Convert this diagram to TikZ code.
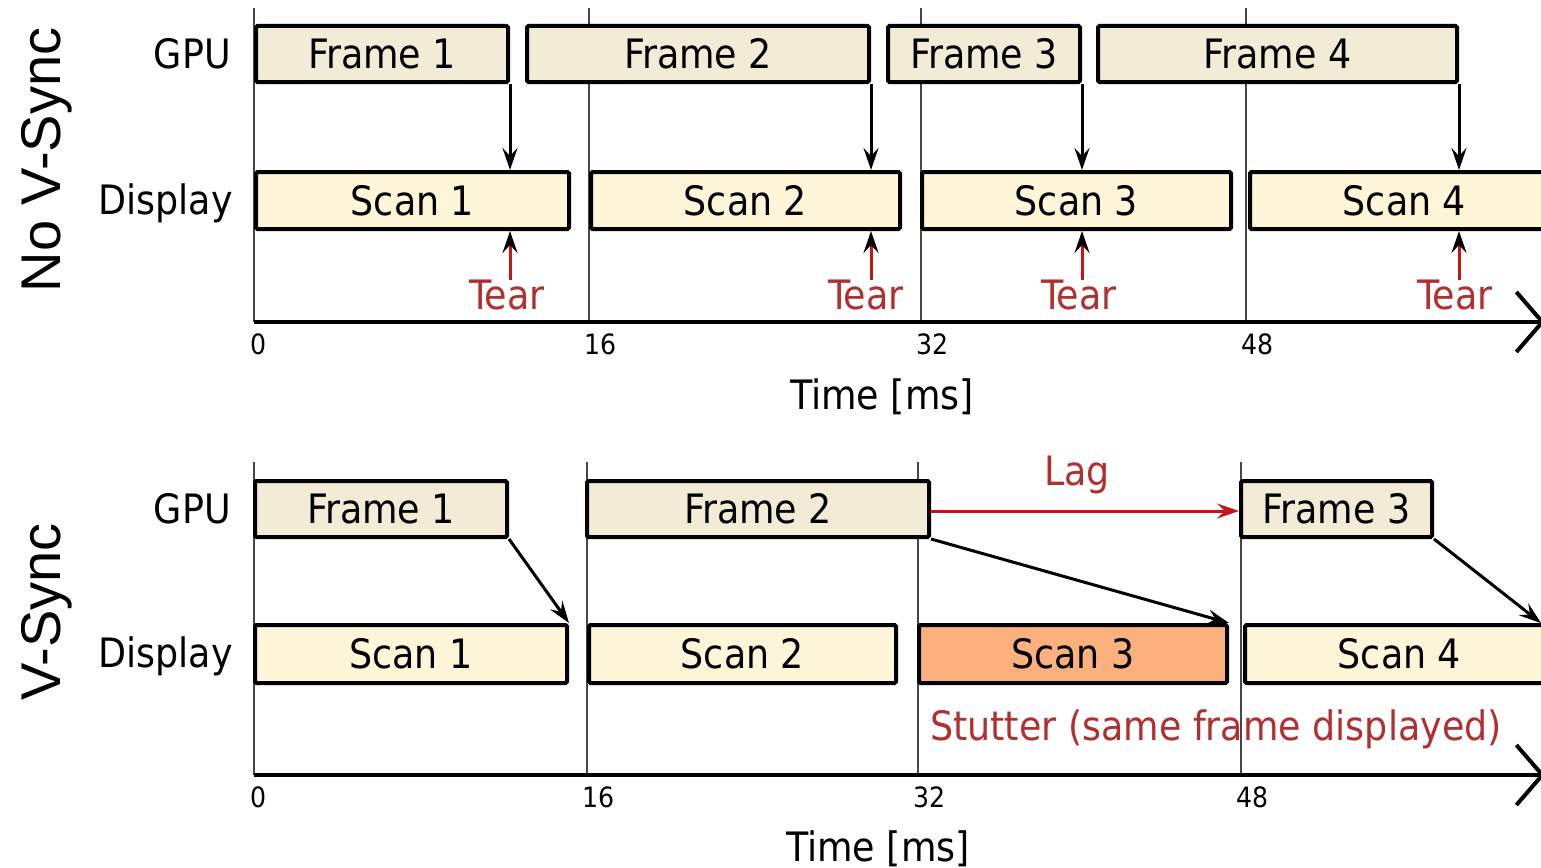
\documentclass[tikz,border=0pt]{standalone}
\usepackage{fontspec}
\usetikzlibrary{arrows.meta}
\newfontfamily\condfont{DejaVu Sans Condensed}
\newfontfamily\sidefont{Liberation Sans}
\newcommand\mainfs{\condfont\fontsize{40.5}{48}\selectfont}
\newcommand\tickfs{\condfont\fontsize{28}{33}\selectfont}
\newcommand\sidefs{\sidefont\fontsize{56}{66}\selectfont}
\definecolor{framefill}{RGB}{242,235,214}
\definecolor{scanfill}{RGB}{255,245,216}
\definecolor{stutfill}{RGB}{252,176,125}
\definecolor{redtext}{RGB}{176,48,48}
\definecolor{redline}{RGB}{200,20,20}
\definecolor{gridgray}{RGB}{70,70,70}
\begin{document}
\begin{tikzpicture}[x=1pt,y=-1pt,
  grid/.style={line width=1.5pt, draw=gridgray},
  fbox/.style={draw, line width=4pt, rounded corners=1.5pt, fill=framefill, inner sep=0pt, font=\mainfs, text height=29pt, text depth=0pt},
  sbox/.style={fbox, fill=scanfill},
  lbl/.style={font=\mainfs, text height=29pt, text depth=0pt, inner sep=0pt},
  redlbl/.style={lbl, text=redtext},
  tick/.style={font=\tickfs, text height=20pt, text depth=0pt, inner sep=0pt, anchor=north west},
  side/.style={font=\sidefs, rotate=90, anchor=base, inner sep=0pt},
  conn/.style={line width=3pt, -{Stealth[length=22pt,width=15pt,inset=8pt]}},
  tearc/.style={line width=3pt, draw=redline, -{Stealth[length=22pt,width=15pt,inset=8pt,color=black]}},
  lagc/.style={line width=3pt, draw=redline, -{Stealth[length=22pt,width=15pt,inset=8pt]}},
  axisl/.style={line width=4pt, -{Straight Barb[length=26pt,width=60pt]}},
]
\useasboundingbox (0,0) rectangle (1541,867);
\clip (0,0) rectangle (1541,867);

% ---------------- top panel: No V-Sync ----------------
\foreach \gx in {254,589,921,1246} {\draw[grid] (\gx,8) -- (\gx,322);}
\coordinate (ta0) at (254,322);
\coordinate (ta1) at (1545,322);
\draw[axisl] (ta0) -- (ta1);

\node[side] (nvs) at (60,160) {No V-Sync};
\node[lbl, anchor=east] (tgpu) at (231,54) {GPU};
\node[lbl, anchor=east] (tdisp) at (233,200) {Display};

\node[fbox, minimum width=252pt, minimum height=56pt] (tf1) at (382,54) {Frame 1};
\node[fbox, minimum width=342pt, minimum height=56pt] (tf2) at (698,54) {Frame 2};
\node[fbox, minimum width=192pt, minimum height=56pt] (tf3) at (984,54) {Frame 3};
\node[fbox, minimum width=359pt, minimum height=56pt] (tf4) at (1277.5,54) {Frame 4};

\node[sbox, minimum width=313pt, minimum height=57pt] (ts1) at (412.5,200.5) {Scan 1};
\node[sbox, minimum width=309pt, minimum height=57pt] (ts2) at (745.5,200.5) {Scan 2};
\node[sbox, minimum width=309pt, minimum height=57pt] (ts3) at (1076.5,200.5) {Scan 3};
\node[sbox, minimum width=309pt, minimum height=57pt] (ts4) at (1404.5,200.5) {Scan 4};

\draw[conn] (tf1.south east) -- (tf1.south east |- ts1.north);
\draw[conn] (tf2.south east) -- (tf2.south east |- ts2.north);
\draw[conn] (tf3.south east) -- (tf3.south east |- ts3.north);
\draw[conn] (tf4.south east) -- (tf4.south east |- ts4.north);

\node[redlbl] (tt1) at (507,295) {Tear};
\node[redlbl] (tt2) at (866,295) {Tear};
\node[redlbl] (tt3) at (1079,295) {Tear};
\node[redlbl] (tt4) at (1455,295) {Tear};

\draw[tearc] (tt1.north -| tf1.south east) -- (tf1.south east |- ts1.south);
\draw[tearc] (tt2.north -| tf2.south east) -- (tf2.south east |- ts2.south);
\draw[tearc] (tt3.north -| tf3.south east) -- (tf3.south east |- ts3.south);
\draw[tearc] (tt4.north -| tf4.south east) -- (tf4.south east |- ts4.south);

\node[tick] (tk0) at (250,334) {0};
\node[tick] (tk16) at (584,334) {16};
\node[tick] (tk32) at (916,334) {32};
\node[tick] (tk48) at (1241,334) {48};
\node[lbl] (ttime) at (882,395) {Time [ms]};

% ---------------- bottom panel: V-Sync ----------------
\foreach \gx in {254,587,918,1241} {\draw[grid] (\gx,462) -- (\gx,775);}
\coordinate (ba0) at (254,775);
\coordinate (ba1) at (1545,775);
\draw[axisl] (ba0) -- (ba1);

\node[side] (vs) at (60,612) {V-Sync};
\node[lbl, anchor=east] (bgpu) at (231,509) {GPU};
\node[lbl, anchor=east] (bdisp) at (233,653) {Display};

\node[fbox, minimum width=252pt, minimum height=56pt] (bf1) at (381,509) {Frame 1};
\node[fbox, minimum width=342pt, minimum height=56pt] (bf2) at (758,509) {Frame 2};
\node[fbox, minimum width=191pt, minimum height=56pt] (bf3) at (1336.5,509) {Frame 3};

\node[sbox, minimum width=312pt, minimum height=58pt] (bs1) at (411,654) {Scan 1};
\node[sbox, minimum width=307pt, minimum height=58pt] (bs2) at (742.5,654) {Scan 2};
\node[sbox, fill=stutfill, minimum width=308pt, minimum height=58pt] (bs3) at (1073,654) {Scan 3};
\node[sbox, minimum width=309pt, minimum height=58pt] (bs4) at (1399.5,654) {Scan 4};

\coordinate (e4) at (1541,623);
\draw[conn] (bf1.south east) -- (bs1.north east);
\draw[conn] (bf2.south east) -- (bs3.north east);
\draw[conn] (bf3.south east) -- (e4);
\draw[lagc] ([yshift=-2pt]bf2.east) -- ([yshift=-2pt]bf3.west);

\node[redlbl] (lag) at (1077,471) {Lag};
\node[redlbl] (stut) at (1216,726) {Stutter (same frame displayed)};

\node[tick] (bk0) at (250,787) {0};
\node[tick] (bk16) at (582,787) {16};
\node[tick] (bk32) at (913,787) {32};
\node[tick] (bk48) at (1236,787) {48};
\node[lbl] (btime) at (878,847) {Time [ms]};
\end{tikzpicture}
\end{document}
